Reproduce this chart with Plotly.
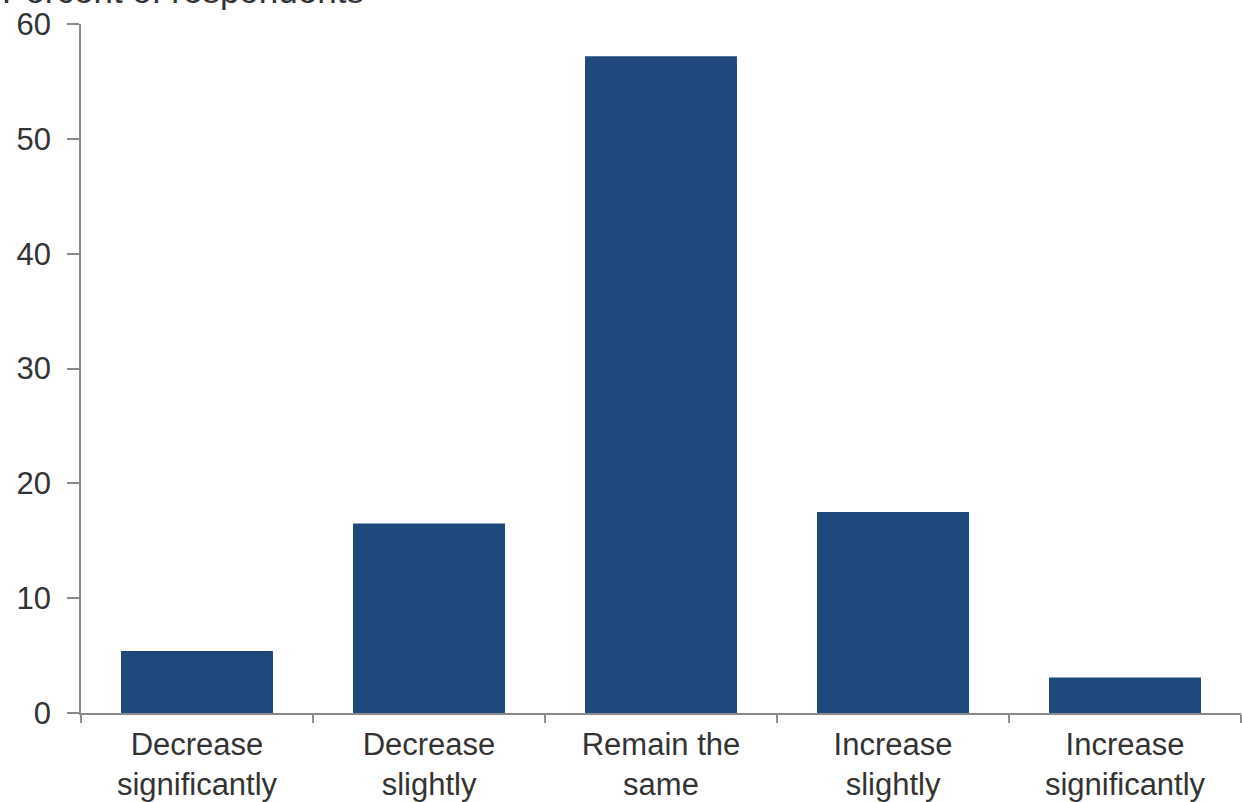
import plotly.graph_objects as go

categories = ["Decrease<br>significantly", "Decrease<br>slightly", "Remain the<br>same",
              "Increase<br>slightly", "Increase<br>significantly"]
values = [5.4, 16.5, 57.2, 17.5, 3.1]
y_ticks = [0, 10, 20, 30, 40, 50, 60]
y_title = "Percent of respondents"

W, H = 1242, 802
ml, mr, mt, mb = 81, 1, 24, 89
pw = W - ml - mr
ph = H - mt - mb

fig = go.Figure(go.Bar(x=categories, y=values, marker_color="#1F497D",
                       marker_line_width=0, width=0.655))

font = dict(family="Liberation Sans, Arial, sans-serif", size=31, color="#333333")
title_font = dict(family="Liberation Sans, Arial, sans-serif", size=35, color="#333333")

fig.update_layout(
    width=W, height=H,
    margin=dict(l=ml, r=mr, t=mt, b=mb, pad=0, autoexpand=False),
    paper_bgcolor="white", plot_bgcolor="white",
    font=font, showlegend=False,
    bargap=0.345,
)
fig.update_xaxes(type="category", showline=True, linecolor="#8a8a8a", linewidth=1.5,
                 ticks="outside", tickson="boundaries", ticklen=8, tickcolor="#8a8a8a",
                 tickwidth=1.5, showgrid=False, tickfont=font, ticklabelstandoff=3,
                 automargin=False)
fig.update_yaxes(range=[0, 60], tickvals=y_ticks, showline=True, linecolor="#8a8a8a",
                 linewidth=1.5, ticks="outside", ticklen=12, tickcolor="#8a8a8a",
                 tickwidth=1.5, showgrid=False, zeroline=False, tickfont=font,
                 ticklabelstandoff=10, automargin=False)

fig.add_annotation(text=y_title, xref="paper", yref="paper",
                   x=-ml / pw, y=1 + (mt - 12) / ph, xanchor="left", yanchor="bottom",
                   showarrow=False, font=title_font)

fig.write_html("out.html")
